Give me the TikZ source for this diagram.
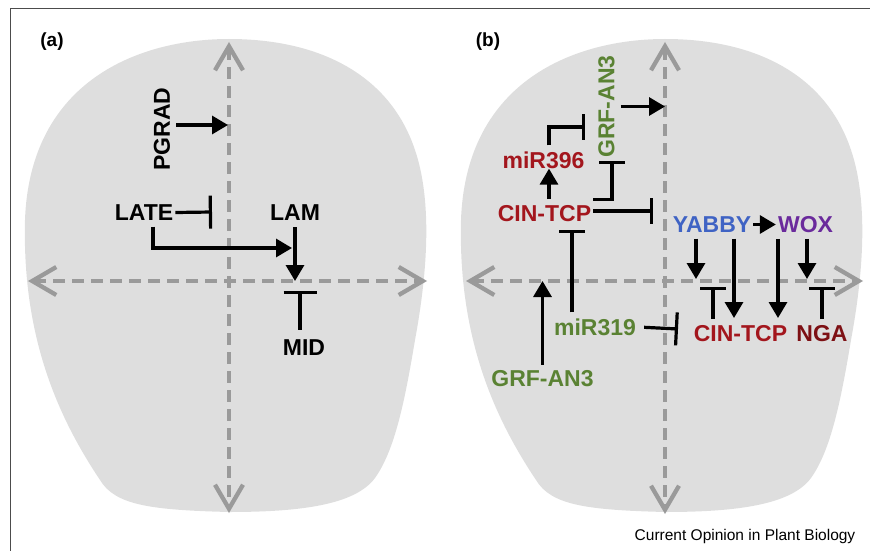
\documentclass[tikz,border=0pt]{standalone}
\usepackage{fontspec}
\setmainfont{Liberation Sans}
\usetikzlibrary{arrows.meta}

\definecolor{leafgray}{HTML}{DEDEDE}
\definecolor{axisgray}{HTML}{9A9A9A}
\definecolor{cinred}{HTML}{A3161D}
\definecolor{grfgreen}{HTML}{5A8233}
\definecolor{yabbyblue}{HTML}{3F63C4}
\definecolor{woxpurple}{HTML}{6A2A9C}
\definecolor{ngared}{HTML}{7D1014}

\begin{document}
\begin{tikzpicture}[x=1pt,y=-1pt,
    lbl/.style={font=\fontsize{23}{27}\selectfont\bfseries,inner xsep=2pt,inner ysep=6pt},
    panel/.style={font=\fontsize{19}{22}\selectfont\bfseries},
    act/.style={line width=3.2pt,-{Triangle[length=16pt,width=18pt]}},
    inh/.style={line width=3.2pt,-{Bar[width=#1]}},
    inh/.default=26pt,
    axis/.style={axisgray,line width=4.3pt,dash pattern=on 12pt off 7pt,
        {Straight Barb[length=24pt,width=28pt]}-{Straight Barb[length=24pt,width=28pt]}}]

    \useasboundingbox (0,0) rectangle (870,551);

    % Leaf outlines
    \foreach \cx in {229,665}
        \fill[leafgray,shift={(\cx,281)}] (0,-242)
            .. controls (-89,-242) and (-199,-201) .. (-204,-61)
            .. controls (-207,59) and (-169,139) .. (-129,199)
            .. controls (-114,224) and (-79,229) .. (0,231)
            .. controls (71,231) and (126,224) .. (146,197)
            .. controls (166,169) and (176,119) .. (186,59)
            .. controls (199,-11) and (203,-81) .. (186,-131)
            .. controls (161,-206) and (91,-242) .. (0,-242) -- cycle;

    % Frame
    \draw[line width=1pt,black!70] (10,551) -- (10,8.5) -- (870,8.5);

    % Axes
    \coordinate (aO) at (229,281);
    \coordinate (aN) at (229,42);
    \coordinate (aS) at (229,513);
    \coordinate (aW) at (28,281);
    \coordinate (aE) at (427,281);
    \coordinate (bO) at (665,281);
    \coordinate (bN) at (665,42);
    \coordinate (bS) at (665,514);
    \coordinate (bW) at (466,281);
    \coordinate (bE) at (863,281);
    \draw[axis] (aN) -- (aS);
    \draw[axis] (aW) -- (aE);
    \draw[axis] (bN) -- (bS);
    \draw[axis] (bW) -- (bE);

    % Panel (a)
    \node[panel] (pa) at (52,42) {(a)};
    \node[lbl,rotate=90] (pgrad) at (162,129) {PGRAD};
    \node[lbl] (late) at (144,212.5) {LATE};
    \node[lbl] (lam) at (295,213) {LAM};
    \node[lbl] (mid) at (304,348) {MID};

    \coordinate (pgradT) at (228,125);
    \coordinate (lateT) at (212,212);
    \coordinate (lamW) at (292,248);
    \coordinate (midT) at (300,291);

    \draw[act] (pgrad.south |- pgradT) -- (pgradT);
    \draw[inh=33pt] (late.east) -- (lateT);
    \draw[act] ([xshift=9pt]late.south) |- (lamW);
    \draw[act] (lam.south) -- (lam.south |- aO);
    \draw[inh=33pt,shorten <=4pt] (mid.north -| midT) -- (midT);

    % Panel (b)
    \node[panel] (pb) at (488,42) {(b)};
    \node[lbl,rotate=90,grfgreen] (grfT) at (606.5,106.5) {GRF-AN3};
    \node[lbl,cinred] (mir396) at (543.5,160) {miR396};
    \node[lbl,cinred] (cinU) at (544.5,213.5) {CIN-TCP};
    \node[lbl,grfgreen] (mir319) at (595,327) {miR319};
    \node[lbl,grfgreen] (grfL) at (542.5,379) {GRF-AN3};
    \node[lbl,yabbyblue] (yabby) at (712,224.5) {YABBY};
    \node[lbl,woxpurple] (wox) at (805.5,224.5) {WOX};
    \node[lbl,cinred] (cinL) at (740.5,333.5) {CIN-TCP};
    \node[lbl,ngared] (nga) at (822,333.5) {NGA};

    \coordinate (grfTb) at (585,127);
    \coordinate (grfTc) at (612,161);
    \coordinate (cinUax) at (653,211);
    \coordinate (cinUb) at (572,230);
    \coordinate (cinLb) at (678,329);
    \coordinate (yabAx) at (696,279);
    \coordinate (yabCin) at (734,318);
    \coordinate (woxCin) at (778,318);
    \coordinate (woxAx) at (807,279);
    \coordinate (cinAx) at (713,287);
    \coordinate (ngaAx) at (822,287);

    \draw[act] (grfT.south) -- (grfT.south -| bO);
    \draw[inh] ([xshift=5.5pt]mir396.north) |- (grfTb);
    \draw[act,shorten >=-6pt] ([xshift=4.5pt]cinU.north) -- ([xshift=5.5pt]mir396.south);
    \draw[inh] (cinU.north east) -| (grfTc);
    \draw[inh] (cinU.east |- cinUax) -- (cinUax);
    \draw[inh] (cinUb |- mir319.north) -- (cinUb);
    \draw[inh=33pt,shorten <=6pt] (mir319.east) -- (cinLb);
    \draw[act] (grfL.north) -- (grfL.north |- bO);
    \draw[act] (yabby.east) -- (wox.west);
    \draw[act] (yabby.south -| yabAx) -- (yabAx);
    \draw[act] (yabby.south -| yabCin) -- (yabCin);
    \draw[act] (wox.south -| woxCin) -- (woxCin);
    \draw[act] (wox.south -| woxAx) -- (woxAx);
    \draw[inh] (cinL.north -| cinAx) -- (cinAx);
    \draw[inh] (nga.north -| ngaAx) -- (ngaAx);

    % Source line
    \node[font=\fontsize{15.5}{18}\selectfont] (src) at (745,536) {Current Opinion in Plant Biology};

\end{tikzpicture}
\end{document}
